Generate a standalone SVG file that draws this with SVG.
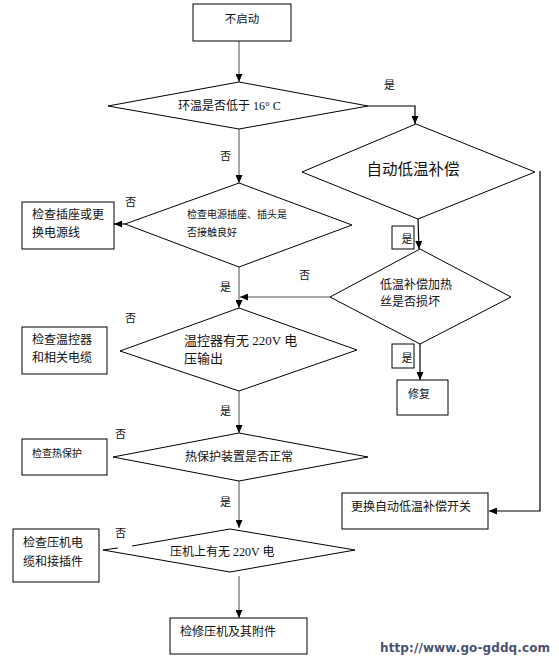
<svg xmlns="http://www.w3.org/2000/svg" width="559" height="663" viewBox="0 0 559 663">
<defs>
<marker id="ah" markerWidth="8" markerHeight="7" refX="8" refY="3.5" orient="auto" markerUnits="userSpaceOnUse">
<path d="M0,0 L8,3.5 L0,7 Z" fill="#000"/>
</marker>
<style>
.s{fill:#fff;stroke:#000;stroke-width:1}
.t{font-family:"Liberation Serif","Noto Sans CJK SC",serif;fill:#111}
.g{fill:none;stroke:#8a8a8a;stroke-width:1.5;marker-end:url(#ah)}
.k{fill:none;stroke:#000;stroke-width:1.2;marker-end:url(#ah)}
</style>
</defs>
<rect width="559" height="663" fill="#fff"/>
<g id="connectors">
<path class="g" d="M239,41 V82"/>
<path class="k" d="M368,106 H415 V124"/>
<path class="g" d="M239,129 V183"/>
<path class="k" d="M125,224 H114"/>
<path class="g" d="M239,267 V308"/>
<path class="g" d="M330,297 H240"/>
<path class="k" d="M418,219 L419,249"/>
<path class="k" d="M420,344 V380"/>
<path class="k" d="M540,171 V511 H489"/>
<path class="g" d="M239,391 V433"/>
<path class="g" d="M239,481 V528"/>
<path class="g" d="M239,576 V618"/>
</g>
<g id="n-start"><rect class="s" x="193" y="4" width="98" height="37"/><text class="t" x="242" y="23" font-size="11.5" text-anchor="middle">不启动</text></g>
<g id="d-temp"><polygon class="s" points="239,82 368,106 239,129 108,106"/><text class="t" x="178" y="110" font-size="12">环温是否低于 16° C</text></g>
<g id="d-auto"><polygon class="s" points="416,124 535,172 418,219 302,172"/><text class="t" x="413" y="175" font-size="15.5" text-anchor="middle">自动低温补偿</text></g>
<g id="d-plug"><polygon class="s" points="239,183 352,225 239,267 125,224"/><text class="t" x="187" y="218" font-size="10">检查电源插座、插头是</text><text class="t" x="187" y="236" font-size="10">否接触良好</text></g>
<g id="n-plug"><rect class="s" x="22" y="202" width="92" height="47"/><text class="t" x="32" y="219" font-size="12">检查插座或更</text><text class="t" x="32" y="237" font-size="12">换电源线</text></g>
<g id="d-heater"><polygon class="s" points="420,249 511,297 420,344 330,297"/><text class="t" x="380" y="289" font-size="12">低温补偿加热</text><text class="t" x="380" y="306" font-size="12">丝是否损坏</text></g>
<g id="n-yes1"><rect class="s" x="392" y="226" width="22" height="23"/><text class="t" x="407" y="243" font-size="11" text-anchor="middle">是</text></g>
<g id="n-yes2"><rect class="s" x="392" y="344" width="22" height="24"/><text class="t" x="407" y="362" font-size="11" text-anchor="middle">是</text></g>
<g id="n-repair"><rect class="s" x="397" y="380" width="51" height="35"/><text class="t" x="408" y="398" font-size="11">修复</text></g>
<g id="n-replace"><rect class="s" x="342" y="493" width="146" height="36"/><text class="t" x="351" y="511" font-size="12">更换自动低温补偿开关</text></g>
<g id="d-thermo"><polygon class="s" points="239,308 357,350 239,391 120,351"/><text class="t" x="184" y="345" font-size="13">温控器有无 220V 电</text><text class="t" x="184" y="363" font-size="13">压输出</text></g>
<g id="n-thermo"><rect class="s" x="22" y="327" width="85" height="47"/><text class="t" x="32" y="344" font-size="12">检查温控器</text><text class="t" x="32" y="362" font-size="12">和相关电缆</text></g>
<g id="d-protect"><polygon class="s" points="239,433 368,457 239,481 113,457"/><text class="t" x="239" y="461" font-size="12" text-anchor="middle">热保护装置是否正常</text></g>
<g id="n-protect"><rect class="s" x="22" y="439" width="85" height="36"/><text class="t" x="32" y="457" font-size="10">检查热保护</text></g>
<g id="d-comp"><path class="s" d="M132,546 L230,529 L355,550 L230,572 L103,550 L118,548"/><text class="t" x="170" y="556" font-size="12">压机上有无 220V 电</text></g>
<g id="n-comp"><rect class="s" x="13" y="529" width="86" height="53"/><text class="t" x="23" y="547" font-size="12">检查压机电</text><text class="t" x="23" y="566" font-size="12">缆和接插件</text></g>
<g id="n-fix"><rect class="s" x="170" y="618" width="137" height="36"/><text class="t" x="180" y="636" font-size="12">检修压机及其附件</text></g>
<g id="labels" class="t" font-size="11">
<text x="384" y="89">是</text>
<text x="220" y="160">否</text>
<text x="125" y="206">否</text>
<text x="220" y="291">是</text>
<text x="299" y="279">否</text>
<text x="125" y="322">否</text>
<text x="220" y="415">是</text>
<text x="115" y="438">否</text>
<text x="220" y="506">是</text>
<text x="115" y="537">否</text>
</g>
<text x="380" y="652" font-family="'DejaVu Sans',sans-serif" font-weight="bold" font-size="12" fill="#4a5272" textLength="170">http://www.go-gddq.com</text>
</svg>
